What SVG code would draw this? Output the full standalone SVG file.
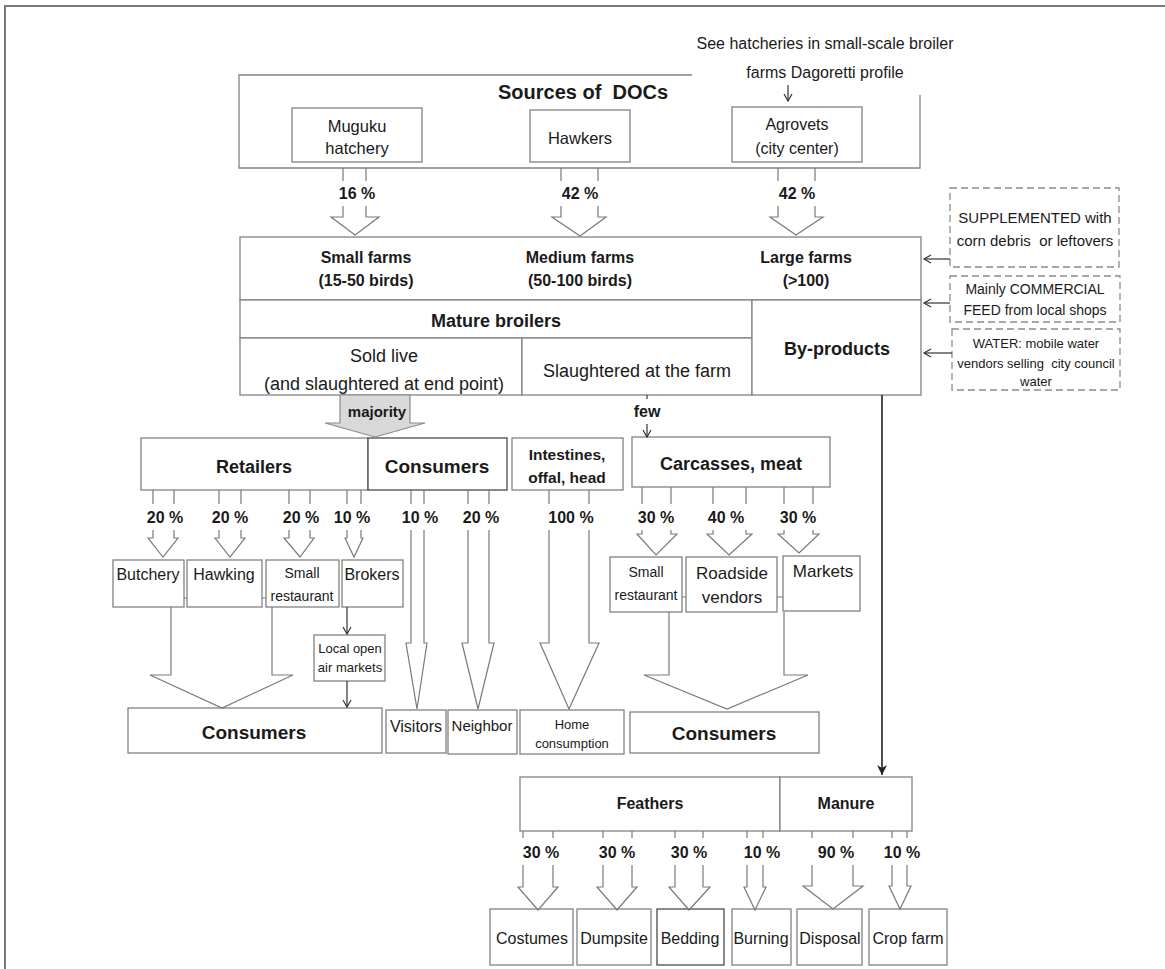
<svg xmlns="http://www.w3.org/2000/svg" width="1165" height="969" viewBox="0 0 1165 969">
  <defs>
    <style>
      .box{fill:#fff;stroke:#828282;stroke-width:1.3}
      .dk{stroke:#4a4a4a}
      .dash{fill:#fff;stroke:#8c8c8c;stroke-width:1.3;stroke-dasharray:7 4}
      .arr{fill:none;stroke:#7a7a7a;stroke-width:1.2}
      .ln{fill:none;stroke:#333;stroke-width:1.2}
      .gap{fill:#fff}
      text{font-family:"Liberation Sans",Arial,sans-serif;fill:#1a1a1a;text-anchor:middle;white-space:pre}
      .b{font-weight:bold}
      .pc{font-weight:bold;font-size:16px}
    </style>
    <marker id="vee" markerWidth="10" markerHeight="10" refX="8" refY="5" orient="auto" markerUnits="userSpaceOnUse">
      <path d="M1,1 L8,5 L1,9" fill="none" stroke="#333" stroke-width="1.2"/>
    </marker>
    <marker id="solid" markerWidth="12" markerHeight="12" refX="10" refY="6" orient="auto" markerUnits="userSpaceOnUse">
      <path d="M0,1 L10,6 L0,11 L3,6 Z" fill="#222"/>
    </marker>
  </defs>

  <!-- outer frame -->
  <path d="M5,969 V6 H1165" fill="none" stroke="#7a7a7a" stroke-width="2"/>

  <!-- sources of day-old chicks -->
  <g id="sources">
    <path class="box" d="M692,75 H239 V168 H920 V95" style="fill:none"/>
    <text class="b" x="583" y="99" font-size="20" xml:space="preserve">Sources of  DOCs</text>
  </g>
  <g id="note-hatcheries">
    <text x="825" y="49" font-size="16">See hatcheries in small-scale broiler</text>
    <text x="825" y="78" font-size="16">farms Dagoretti profile</text>
  </g>
  <g id="muguku">
    <rect class="box" x="292" y="108" width="130" height="54"/>
    <text x="357" y="132" font-size="16.5">Muguku</text>
    <text x="357" y="154" font-size="16.5">hatchery</text>
  </g>
  <g id="hawkers">
    <rect class="box" x="530" y="110" width="100" height="52"/>
    <text x="580" y="144" font-size="16.5">Hawkers</text>
  </g>
  <g id="agrovets">
    <rect class="box" x="732" y="107" width="130" height="55"/>
    <text x="797" y="130" font-size="16">Agrovets</text>
    <text x="797" y="154" font-size="16">(city center)</text>
  </g>

  <!-- farms -->
  <g id="farms">
    <rect class="box" x="240" y="237" width="681" height="63"/>
    <text class="b" x="366" y="263" font-size="16">Small farms</text>
    <text class="b" x="366" y="286" font-size="16">(15-50 birds)</text>
    <text class="b" x="580" y="263" font-size="16">Medium farms</text>
    <text class="b" x="580" y="286" font-size="16">(50-100 birds)</text>
    <text class="b" x="806" y="263" font-size="16">Large farms</text>
    <text class="b" x="806" y="286" font-size="16">(&gt;100)</text>
  </g>
  <g id="mature-broilers">
    <rect class="box" x="240" y="300" width="512" height="38"/>
    <text class="b" x="496" y="326.5" font-size="18">Mature broilers</text>
  </g>
  <g id="sold-live">
    <rect class="box" x="240" y="338" width="282" height="57"/>
    <text x="384" y="361.5" font-size="18">Sold live</text>
    <text x="384" y="389.5" font-size="18">(and slaughtered at end point)</text>
  </g>
  <g id="slaughtered">
    <rect class="box" x="522" y="338" width="230" height="57"/>
    <text x="637" y="376.5" font-size="18">Slaughtered at the farm</text>
  </g>
  <g id="by-products">
    <rect class="box" x="752" y="300" width="169" height="95"/>
    <text class="b" x="837" y="354.5" font-size="18">By-products</text>
  </g>

  <!-- inputs -->
  <g id="feed-supplement">
    <rect class="dash" x="950" y="188" width="169" height="79"/>
    <text x="1035" y="222.5" font-size="15">SUPPLEMENTED with</text>
    <text x="1035" y="245.5" font-size="15" xml:space="preserve">corn debris  or leftovers</text>
  </g>
  <g id="feed-commercial">
    <rect class="dash" x="950" y="276" width="170" height="46"/>
    <text x="1035" y="294" font-size="14">Mainly COMMERCIAL</text>
    <text x="1035" y="315" font-size="14">FEED from local shops</text>
  </g>
  <g id="water">
    <rect class="dash" x="952" y="329" width="168" height="61"/>
    <text x="1036" y="348" font-size="13">WATER: mobile water</text>
    <text x="1036" y="368" font-size="13" xml:space="preserve">vendors selling  city council</text>
    <text x="1036" y="386" font-size="13">water</text>
  </g>

  <!-- live sales channel -->
  <g id="retailers">
    <rect class="box" x="141" y="438" width="227" height="52"/>
    <text class="b" x="254" y="472.5" font-size="18">Retailers</text>
  </g>
  <g id="consumers-direct">
    <rect class="box dk" x="368" y="438" width="139" height="52"/>
    <text class="b" x="437" y="473" font-size="19">Consumers</text>
  </g>
  <g id="intestines">
    <rect class="box" x="512" y="438" width="111" height="52"/>
    <text class="b" x="567" y="459.5" font-size="15.5">Intestines,</text>
    <text class="b" x="567" y="482.5" font-size="15.5">offal, head</text>
  </g>
  <g id="carcasses">
    <rect class="box" x="632" y="437" width="198" height="50"/>
    <text class="b" x="731" y="469.5" font-size="18">Carcasses, meat</text>
  </g>

  <g id="butchery">
    <rect class="box" x="113" y="560" width="71" height="47"/>
    <text x="148" y="580" font-size="16">Butchery</text>
  </g>
  <g id="hawking">
    <rect class="box" x="187" y="560" width="75" height="47"/>
    <text x="224" y="580" font-size="16">Hawking</text>
  </g>
  <g id="small-restaurant-a">
    <rect class="box" x="266" y="560" width="73" height="47"/>
    <text x="302" y="578" font-size="14">Small</text>
    <text x="302" y="601" font-size="14">restaurant</text>
  </g>
  <g id="brokers">
    <rect class="box" x="342" y="560" width="61" height="47"/>
    <text x="372" y="580" font-size="16">Brokers</text>
  </g>
  <g id="open-air-markets">
    <rect class="box" x="314" y="635" width="71" height="46"/>
    <text x="350" y="652.5" font-size="13">Local open</text>
    <text x="350" y="671.5" font-size="13">air markets</text>
  </g>
  <g id="consumers-retail">
    <rect class="box" x="128" y="708" width="254" height="45"/>
    <text class="b" x="254" y="739" font-size="19">Consumers</text>
  </g>
  <g id="visitors">
    <rect class="box" x="386" y="710" width="60" height="43"/>
    <text x="416" y="731.5" font-size="16">Visitors</text>
  </g>
  <g id="neighbor">
    <rect class="box" x="448" y="710" width="69" height="44"/>
    <text x="482" y="730.5" font-size="15">Neighbor</text>
  </g>
  <g id="home-consumption">
    <rect class="box" x="520" y="710" width="104" height="44"/>
    <text x="572" y="728.5" font-size="13">Home</text>
    <text x="572" y="747.5" font-size="13">consumption</text>
  </g>

  <g id="small-restaurant-b">
    <rect class="box" x="610" y="557" width="72" height="55"/>
    <text x="646" y="577" font-size="14">Small</text>
    <text x="646" y="600" font-size="14">restaurant</text>
  </g>
  <g id="roadside-vendors">
    <rect class="box" x="686" y="557" width="91" height="55"/>
    <text x="732" y="579" font-size="17">Roadside</text>
    <text x="732" y="603" font-size="17">vendors</text>
  </g>
  <g id="markets">
    <rect class="box" x="783" y="556" width="77" height="55"/>
    <text x="823" y="577" font-size="17">Markets</text>
  </g>
  <g id="consumers-meat">
    <rect class="box" x="630" y="712" width="189" height="41"/>
    <text class="b" x="724" y="740" font-size="19">Consumers</text>
  </g>

  <!-- by-products channel -->
  <g id="feathers">
    <rect class="box" x="520" y="777" width="260" height="54"/>
    <text class="b" x="650" y="809" font-size="16">Feathers</text>
  </g>
  <g id="manure">
    <rect class="box" x="780" y="777" width="132" height="54"/>
    <text class="b" x="846" y="809" font-size="16">Manure</text>
  </g>
  <g id="costumes">
    <rect class="box" x="490" y="909" width="83" height="56"/>
    <text x="532" y="944" font-size="16">Costumes</text>
  </g>
  <g id="dumpsite">
    <rect class="box" x="577" y="909" width="74" height="56"/>
    <text x="614" y="944" font-size="16">Dumpsite</text>
  </g>
  <g id="bedding">
    <rect class="box dk" x="657" y="909" width="67" height="56"/>
    <text x="690" y="944" font-size="16">Bedding</text>
  </g>
  <g id="burning">
    <rect class="box" x="732" y="909" width="59" height="56"/>
    <text x="761" y="944" font-size="16">Burning</text>
  </g>
  <g id="disposal">
    <rect class="box" x="797" y="909" width="65" height="56"/>
    <text x="830" y="944" font-size="16">Disposal</text>
  </g>
  <g id="crop-farm">
    <rect class="box" x="869" y="909" width="78" height="56"/>
    <text x="908" y="944" font-size="16">Crop farm</text>
  </g>

  <!-- connectors -->
  <g id="connectors">
    <!-- sources to farms -->
    <path class="arr" d="M343,168 V217 H331 L355,235 L379,217 H366 V168"/>
    <path class="arr" d="M561,168 V217 H552 L580,236 L606,217 H598 V168"/>
    <path class="arr" d="M778,168 V217 H770 L796,235 L823,217 H815 V168"/>
    <rect class="gap" x="330" y="181" width="60" height="25"/>
    <rect class="gap" x="550" y="181" width="60" height="25"/>
    <rect class="gap" x="767" y="181" width="60" height="25"/>
    <text class="pc" x="357" y="199">16 %</text>
    <text class="pc" x="580" y="199">42 %</text>
    <text class="pc" x="797" y="199">42 %</text>

    <!-- hatchery note -->
    <path class="ln" d="M788,85 V101" marker-end="url(#vee)"/>

    <!-- inputs into the farms -->
    <path class="ln" d="M950,259 H924" marker-end="url(#vee)"/>
    <path class="ln" d="M950,303 H924" marker-end="url(#vee)"/>
    <path class="ln" d="M952,353 H924" marker-end="url(#vee)"/>

    <!-- majority sold live -->
    <path d="M340,395 V423 H325 L375,437 L425,423 H410 V395 Z" fill="#d9d9d9" stroke="#8a8a8a" stroke-width="1.2"/>
    <text class="b" x="377" y="416.5" font-size="15">majority</text>

    <!-- few slaughtered at the farm -->
    <path class="ln" d="M647,395 V399"/>
    <text class="b" x="647" y="417" font-size="16">few</text>
    <path class="ln" d="M647,424 V437" marker-end="url(#vee)"/>

    <!-- retailers split -->
    <path class="arr" d="M153,490 V538 H148 L163,557 L178,538 H174 V490"/>
    <path class="arr" d="M219,490 V538 H215 L230,557 L245,538 H241 V490"/>
    <path class="arr" d="M289,490 V538 H284 L300,557 L314,538 H310 V490"/>
    <path class="arr" d="M347,490 V538 H345 L354,557 L363,538 H361 V490"/>
    <!-- direct consumers split -->
    <path class="arr" d="M411,490 V643 H406 L417,709 L427,643 H424 V490"/>
    <path class="arr" d="M468,490 V643 H462 L478,709 L494,643 H489 V490"/>
    <!-- intestines -->
    <path class="arr" d="M549,490 V643 H540 L569,709 L599,643 H589 V490"/>
    <!-- carcasses split -->
    <path class="arr" d="M642,487 V534 H637 L656,555 L677,534 H671 V487"/>
    <path class="arr" d="M713,487 V534 H707 L729,555 L752,534 H746 V487"/>
    <path class="arr" d="M784,487 V534 H778 L799,553 L819,534 H813 V487"/>

    <rect class="gap" x="140" y="504" width="50" height="26"/>
    <rect class="gap" x="205" y="504" width="50" height="26"/>
    <rect class="gap" x="276" y="504" width="50" height="26"/>
    <rect class="gap" x="332" y="504" width="41" height="26"/>
    <rect class="gap" x="400" y="504" width="40" height="26"/>
    <rect class="gap" x="459" y="504" width="44" height="26"/>
    <rect class="gap" x="543" y="504" width="56" height="26"/>
    <rect class="gap" x="633" y="504" width="48" height="26"/>
    <rect class="gap" x="703" y="504" width="48" height="26"/>
    <rect class="gap" x="774" y="504" width="48" height="26"/>
    <text class="pc" x="165" y="523">20 %</text>
    <text class="pc" x="230" y="523">20 %</text>
    <text class="pc" x="301" y="523">20 %</text>
    <text class="pc" x="352" y="523">10 %</text>
    <text class="pc" x="420" y="523">10 %</text>
    <text class="pc" x="481" y="523">20 %</text>
    <text class="pc" x="571" y="523">100 %</text>
    <text class="pc" x="656" y="523">30 %</text>
    <text class="pc" x="726" y="523">40 %</text>
    <text class="pc" x="798" y="523">30 %</text>

    <!-- outlets to final consumers -->
    <path class="arr" d="M171,607 V675 H150 L222,708 L293,675 H272 V607"/>
    <path class="arr" d="M669,612 V675 H644 L727,709 L808,675 H784 V612"/>
    <path class="arr" d="M184,598 H187 M262,598 H266 M682,597 H686 M777,597 H783"/>
    <path class="ln" d="M347,607 V634" marker-end="url(#vee)"/>
    <path class="ln" d="M347,681 V707" marker-end="url(#vee)"/>

    <!-- by-products -->
    <path d="M882,395 V775" fill="none" stroke="#222" stroke-width="1.6" marker-end="url(#solid)"/>

    <!-- feathers and manure split -->
    <path class="arr" d="M523,831 V887 H518 L538,910 L558,887 H553 V831"/>
    <path class="arr" d="M603,831 V887 H597 L617,910 L637,887 H632 V831"/>
    <path class="arr" d="M675,831 V887 H669 L689,910 L710,887 H703 V831"/>
    <path class="arr" d="M747,831 V887 H744 L755,910 L766,887 H763 V831"/>
    <path class="arr" d="M812,831 V886 H803 L833,909 L863,886 H853 V831"/>
    <path class="arr" d="M892,831 V886 H889 L900,909 L911,886 H907 V831"/>
    <rect class="gap" x="516" y="838" width="50" height="27"/>
    <rect class="gap" x="592" y="838" width="50" height="27"/>
    <rect class="gap" x="664" y="838" width="50" height="27"/>
    <rect class="gap" x="740" y="838" width="44" height="27"/>
    <rect class="gap" x="806" y="838" width="58" height="27"/>
    <rect class="gap" x="884" y="838" width="36" height="27"/>
    <text class="pc" x="541" y="858" font-size="15">30 %</text>
    <text class="pc" x="617" y="858" font-size="15">30 %</text>
    <text class="pc" x="689" y="858" font-size="15">30 %</text>
    <text class="pc" x="762" y="858" font-size="15">10 %</text>
    <text class="pc" x="836" y="858" font-size="15">90 %</text>
    <text class="pc" x="902" y="858" font-size="15">10 %</text>
  </g>
</svg>
